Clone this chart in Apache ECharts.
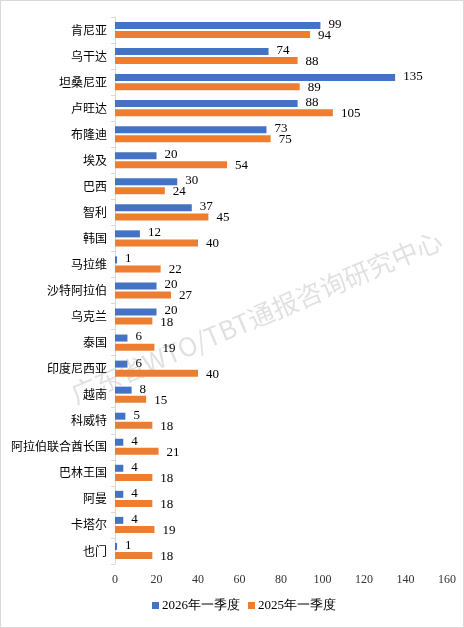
<!DOCTYPE html>
<html>
<head>
    <meta charset="utf-8">
    <style>
        html, body { margin: 0; padding: 0; background: #fff; }
        #main { width: 462px; height: 626px; border: 1px solid #d9d9d9; }
    </style>
    <script src="https://cdn.jsdelivr.net/npm/echarts@6/dist/echarts.min.js"></script>
</head>
<body>
<div id="main"></div>
<script type="text/javascript">
    var countries = ['肯尼亚', '乌干达', '坦桑尼亚', '卢旺达', '布隆迪', '埃及', '巴西', '智利', '韩国', '马拉维',
        '沙特阿拉伯', '乌克兰', '泰国', '印度尼西亚', '越南', '科威特', '阿拉伯联合酋长国', '巴林王国', '阿曼', '卡塔尔', '也门'];
    var q2026 = [99, 74, 135, 88, 73, 20, 30, 37, 12, 1, 20, 20, 6, 6, 8, 5, 4, 4, 4, 4, 1];
    var q2025 = [94, 88, 89, 105, 75, 54, 24, 45, 40, 22, 27, 18, 19, 40, 15, 18, 21, 18, 18, 19, 18];
    var seriesNames = ['2026年一季度', '2025年一季度'];

    var chart = echarts.init(document.getElementById('main'));
    var getLabel = function(dy) {
        return {
            show: true,
            position: 'right',
            distance: 8,
            offset: [0, dy],
            color: '#000',
            fontFamily: 'Liberation Serif',
            fontSize: 13
        };
    };
    chart.setOption({
        animation: false,
        grid: { left: 114, right: 16, top: 16, bottom: 63, containLabel: false },
        legend: {
            data: seriesNames,
            icon: 'rect',
            bottom: 10,
            left: 146,
            itemWidth: 7,
            itemHeight: 7,
            itemGap: 8,
            textStyle: { fontFamily: 'Liberation Serif', fontSize: 13, color: '#000', padding: [0, 0, 0, -2] }
        },
        xAxis: {
            type: 'value',
            min: 0,
            max: 160,
            interval: 20,
            splitLine: { show: false },
            axisLine: { show: false },
            axisTick: { show: false },
            axisLabel: { color: '#333', fontFamily: 'Liberation Serif', fontSize: 12, margin: 10 }
        },
        yAxis: {
            type: 'category',
            inverse: true,
            data: countries,
            axisLine: { lineStyle: { color: '#d9d9d9' } },
            axisTick: { show: true, length: 4, lineStyle: { color: '#d9d9d9' } },
            axisLabel: { color: '#000', fontFamily: 'Noto Sans CJK SC', fontSize: 12, margin: 8 }
        },
        graphic: [{
            type: 'text',
            left: 66,
            top: 226,
            rotation: Math.PI * 23 / 180,
            style: {
                text: '广东省WTO/TBT通报咨询研究中心',
                fill: 'rgba(0,0,0,0.12)',
                font: '26px "Noto Sans CJK SC"'
            }
        }],
        series: [{
            name: seriesNames[0],
            type: 'bar',
            data: q2026,
            barWidth: 7,
            barGap: '30%',
            itemStyle: { color: '#4472C4' },
            label: getLabel(-1)
        }, {
            name: seriesNames[1],
            type: 'bar',
            data: q2025,
            barWidth: 7,
            barGap: '30%',
            itemStyle: { color: '#ED7D31' },
            label: getLabel(1)
        }]
    });
</script>
</body>
</html>
